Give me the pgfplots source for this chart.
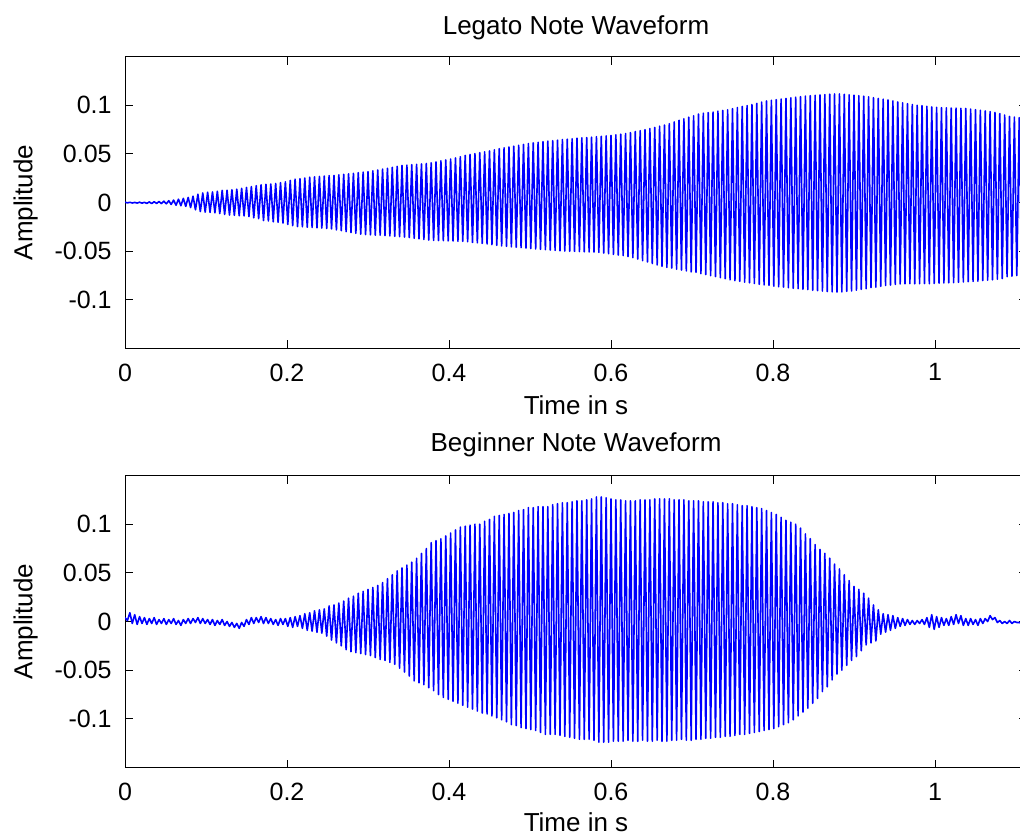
\documentclass[border=0pt]{standalone}
\usepackage{fontspec}
\setmainfont{Liberation Sans}
\usepackage{pgfplots}
\pgfplotsset{compat=1.18}
\newcommand{\lblfont}{\fontsize{13}{15.6}\selectfont}
\newcommand{\tckfont}{\fontsize{12.5}{15}\selectfont}
\pgfplotsset{
  wave/.style={
    width=451pt, scale only axis, anchor=north west,
    xmin=0, xmax=1.1136, ymin=-0.15, ymax=0.15,
    axis line style={black, line width=0.5pt},
    tick align=inside, major tick length=4pt,
    tick style={black, line width=0.5pt},
    xtick={0,0.2,0.4,0.6,0.8,1},
    xticklabels={0,0.2,0.4,0.6,0.8,1},
    ytick={-0.1,-0.05,0,0.05,0.1},
    yticklabels={-0.1,-0.05,0,0.05,0.1},
    xticklabel style={font=\tckfont, inner sep=0pt, anchor=north, yshift=-7.5pt},
    yticklabel style={font=\tckfont, inner sep=0pt, anchor=east, xshift=-6.5pt},
    every axis title/.style={at={(axis description cs:0.5,1)}, anchor=base, inner sep=0pt, font=\lblfont},
    every axis x label/.style={at={(axis description cs:0.5,0)}, anchor=base, inner sep=0pt, font=\lblfont},
    every axis y label/.style={at={(axis description cs:-0.1026,0.5)}, rotate=90, anchor=base, inner sep=0pt, font=\lblfont},
    xlabel={Time in s}, ylabel={Amplitude},
  },
  sig/.style={color={rgb,255:red,0;green,0;blue,255}, line width=0.8pt, line join=round, mark=none},
}
\begin{document}
\begin{tikzpicture}
\useasboundingbox (0,0) rectangle (510pt,-417pt);
\begin{axis}[wave, at={(62.5pt,-28.35pt)}, height=145.8pt,
  title={Legato Note Waveform}, title style={yshift=10.9pt}, xlabel style={yshift=-33pt}]
\addplot[sig] coordinates {
(0.000,0.0003)(0.003,-0.0004)(0.006,0.0002)(0.009,-0.0005)(0.012,0.0001)(0.015,-0.0006)(0.018,0.0003)(0.021,-0.0007)(0.024,0.0002)(0.027,-0.0009)
(0.030,0.0006)(0.033,-0.0011)(0.036,0.0008)(0.039,-0.0010)(0.042,0.0010)(0.045,-0.0012)(0.048,0.0013)(0.051,-0.0013)(0.054,0.0018)(0.057,-0.0020)
(0.060,0.0025)(0.063,-0.0028)(0.066,0.0034)(0.069,-0.0033)(0.072,0.0043)(0.075,-0.0040)(0.078,0.0052)(0.081,-0.0052)(0.084,0.0065)(0.087,-0.0075)
(0.090,0.0085)(0.093,-0.0093)(0.096,0.0098)(0.099,-0.0099)(0.102,0.0106)(0.105,-0.0102)(0.108,0.0109)(0.111,-0.0106)(0.114,0.0116)(0.117,-0.0114)
(0.120,0.0125)(0.123,-0.0123)(0.126,0.0126)(0.129,-0.0129)(0.132,0.0131)(0.135,-0.0132)(0.138,0.0137)(0.141,-0.0136)(0.144,0.0146)(0.147,-0.0138)
(0.150,0.0155)(0.153,-0.0145)(0.156,0.0164)(0.159,-0.0158)(0.162,0.0173)(0.165,-0.0166)(0.168,0.0182)(0.171,-0.0186)(0.174,0.0187)(0.177,-0.0190)
(0.180,0.0190)(0.183,-0.0198)(0.186,0.0196)(0.189,-0.0204)(0.192,0.0203)(0.195,-0.0212)(0.198,0.0212)(0.201,-0.0226)(0.204,0.0227)(0.207,-0.0238)
(0.210,0.0240)(0.213,-0.0248)(0.216,0.0244)(0.219,-0.0250)(0.222,0.0252)(0.225,-0.0254)(0.228,0.0260)(0.231,-0.0257)(0.234,0.0264)(0.237,-0.0261)
(0.240,0.0268)(0.243,-0.0263)(0.246,0.0272)(0.249,-0.0267)(0.252,0.0276)(0.255,-0.0272)(0.258,0.0279)(0.261,-0.0282)(0.264,0.0284)(0.267,-0.0290)
(0.270,0.0290)(0.273,-0.0300)(0.276,0.0295)(0.279,-0.0309)(0.282,0.0300)(0.285,-0.0317)(0.288,0.0306)(0.291,-0.0326)(0.294,0.0312)(0.297,-0.0330)
(0.300,0.0318)(0.303,-0.0333)(0.306,0.0326)(0.309,-0.0336)(0.312,0.0334)(0.315,-0.0337)(0.318,0.0344)(0.321,-0.0341)(0.324,0.0352)(0.327,-0.0344)
(0.330,0.0362)(0.333,-0.0348)(0.336,0.0372)(0.339,-0.0351)(0.342,0.0381)(0.345,-0.0355)(0.348,0.0384)(0.351,-0.0361)(0.354,0.0388)(0.357,-0.0368)
(0.360,0.0392)(0.363,-0.0374)(0.366,0.0397)(0.369,-0.0381)(0.372,0.0402)(0.375,-0.0386)(0.378,0.0408)(0.381,-0.0390)(0.384,0.0417)(0.387,-0.0391)
(0.390,0.0428)(0.393,-0.0393)(0.396,0.0438)(0.399,-0.0395)(0.402,0.0448)(0.405,-0.0396)(0.408,0.0459)(0.411,-0.0399)(0.414,0.0471)(0.417,-0.0400)
(0.420,0.0485)(0.423,-0.0404)(0.426,0.0494)(0.429,-0.0411)(0.432,0.0503)(0.435,-0.0415)(0.438,0.0512)(0.441,-0.0421)(0.444,0.0521)(0.447,-0.0427)
(0.450,0.0530)(0.453,-0.0434)(0.456,0.0542)(0.459,-0.0441)(0.462,0.0553)(0.465,-0.0446)(0.468,0.0562)(0.471,-0.0451)(0.474,0.0571)(0.477,-0.0456)
(0.480,0.0580)(0.483,-0.0460)(0.486,0.0589)(0.489,-0.0464)(0.492,0.0598)(0.495,-0.0469)(0.498,0.0607)(0.501,-0.0474)(0.504,0.0614)(0.507,-0.0478)
(0.510,0.0620)(0.513,-0.0482)(0.516,0.0626)(0.519,-0.0485)(0.522,0.0632)(0.525,-0.0489)(0.528,0.0636)(0.531,-0.0493)(0.534,0.0642)(0.537,-0.0498)
(0.540,0.0648)(0.543,-0.0500)(0.546,0.0652)(0.549,-0.0502)(0.552,0.0656)(0.555,-0.0503)(0.558,0.0661)(0.561,-0.0505)(0.564,0.0665)(0.567,-0.0507)
(0.570,0.0668)(0.573,-0.0509)(0.576,0.0672)(0.579,-0.0510)(0.582,0.0677)(0.585,-0.0513)(0.588,0.0681)(0.591,-0.0521)(0.594,0.0685)(0.597,-0.0527)
(0.600,0.0690)(0.603,-0.0534)(0.606,0.0696)(0.609,-0.0541)(0.612,0.0703)(0.615,-0.0546)(0.618,0.0710)(0.621,-0.0557)(0.624,0.0719)(0.627,-0.0567)
(0.630,0.0730)(0.633,-0.0582)(0.636,0.0739)(0.639,-0.0598)(0.642,0.0749)(0.645,-0.0612)(0.648,0.0761)(0.651,-0.0628)(0.654,0.0773)(0.657,-0.0643)
(0.660,0.0785)(0.663,-0.0656)(0.666,0.0797)(0.669,-0.0668)(0.672,0.0811)(0.675,-0.0675)(0.678,0.0829)(0.681,-0.0687)(0.684,0.0846)(0.687,-0.0695)
(0.690,0.0862)(0.693,-0.0704)(0.696,0.0878)(0.699,-0.0714)(0.702,0.0893)(0.705,-0.0719)(0.708,0.0910)(0.711,-0.0732)(0.714,0.0919)(0.717,-0.0742)
(0.720,0.0925)(0.723,-0.0752)(0.726,0.0930)(0.729,-0.0763)(0.732,0.0940)(0.735,-0.0773)(0.738,0.0948)(0.741,-0.0784)(0.744,0.0954)(0.747,-0.0795)
(0.750,0.0965)(0.753,-0.0804)(0.756,0.0977)(0.759,-0.0811)(0.762,0.0988)(0.765,-0.0819)(0.768,0.0997)(0.771,-0.0826)(0.774,0.1008)(0.777,-0.0834)
(0.780,0.1020)(0.783,-0.0841)(0.786,0.1033)(0.789,-0.0848)(0.792,0.1044)(0.795,-0.0852)(0.798,0.1052)(0.801,-0.0861)(0.804,0.1059)(0.807,-0.0867)
(0.810,0.1065)(0.813,-0.0871)(0.816,0.1071)(0.819,-0.0877)(0.822,0.1077)(0.825,-0.0883)(0.828,0.1083)(0.831,-0.0886)(0.834,0.1089)(0.837,-0.0892)
(0.840,0.1095)(0.843,-0.0896)(0.846,0.1099)(0.849,-0.0904)(0.852,0.1103)(0.855,-0.0907)(0.858,0.1106)(0.861,-0.0911)(0.864,0.1110)(0.867,-0.0916)
(0.870,0.1115)(0.873,-0.0919)(0.876,0.1117)(0.879,-0.0922)(0.882,0.1117)(0.885,-0.0920)(0.888,0.1113)(0.891,-0.0913)(0.894,0.1109)(0.897,-0.0910)
(0.900,0.1105)(0.903,-0.0902)(0.906,0.1099)(0.909,-0.0894)(0.912,0.1093)(0.915,-0.0887)(0.918,0.1087)(0.921,-0.0876)(0.924,0.1079)(0.927,-0.0872)
(0.930,0.1070)(0.933,-0.0862)(0.936,0.1063)(0.939,-0.0854)(0.942,0.1055)(0.945,-0.0850)(0.948,0.1045)(0.951,-0.0843)(0.954,0.1035)(0.957,-0.0838)
(0.960,0.1025)(0.963,-0.0836)(0.966,0.1016)(0.969,-0.0835)(0.972,0.1008)(0.975,-0.0837)(0.978,0.1000)(0.981,-0.0836)(0.984,0.0996)(0.987,-0.0834)
(0.990,0.0990)(0.993,-0.0836)(0.996,0.0984)(0.999,-0.0833)(1.002,0.0979)(1.005,-0.0830)(1.008,0.0976)(1.011,-0.0828)(1.014,0.0974)(1.017,-0.0826)
(1.020,0.0972)(1.023,-0.0825)(1.026,0.0971)(1.029,-0.0821)(1.032,0.0969)(1.035,-0.0818)(1.038,0.0967)(1.041,-0.0815)(1.044,0.0961)(1.047,-0.0812)
(1.050,0.0955)(1.053,-0.0809)(1.056,0.0949)(1.059,-0.0803)(1.062,0.0942)(1.065,-0.0800)(1.068,0.0935)(1.071,-0.0796)(1.074,0.0927)(1.077,-0.0790)
(1.080,0.0915)(1.083,-0.0783)(1.086,0.0900)(1.089,-0.0764)(1.092,0.0886)(1.095,-0.0758)(1.098,0.0878)(1.101,-0.0752)(1.104,0.0873)(1.107,-0.0751)
(1.110,0.0870)(1.113,-0.0750)(1.116,0.0868)
};
\end{axis}
\begin{axis}[wave, at={(62.5pt,-237.75pt)}, height=146pt,
  title={Beginner Note Waveform}, title style={yshift=12pt}, xlabel style={yshift=-32pt}]
\addplot[sig] coordinates {
(0.000,0.004)(0.003,0.001)(0.006,0.009)(0.009,-0.002)(0.012,0.007)(0.015,-0.003)(0.018,0.005)(0.021,-0.002)(0.024,0.004)(0.027,-0.003)
(0.030,0.003)(0.033,-0.002)(0.036,0.004)(0.039,-0.003)(0.042,0.002)(0.045,-0.002)(0.048,0.003)(0.051,-0.003)(0.054,0.002)(0.057,-0.002)
(0.060,0.003)(0.063,-0.003)(0.066,0.001)(0.069,-0.004)(0.072,0.002)(0.075,-0.002)(0.078,0.003)(0.081,-0.002)(0.084,0.003)(0.087,-0.001)
(0.090,0.004)(0.093,-0.002)(0.096,0.003)(0.099,-0.002)(0.102,0.002)(0.105,-0.003)(0.108,0.002)(0.111,-0.004)(0.114,0.001)(0.117,-0.003)
(0.120,0.002)(0.123,-0.004)(0.126,0.000)(0.129,-0.005)(0.132,-0.001)(0.135,-0.006)(0.138,-0.002)(0.141,-0.007)(0.144,-0.001)(0.147,-0.005)
(0.150,0.002)(0.153,-0.003)(0.156,0.004)(0.159,-0.002)(0.162,0.004)(0.165,-0.001)(0.168,0.005)(0.171,-0.002)(0.174,0.004)(0.177,-0.002)
(0.180,0.003)(0.183,-0.003)(0.186,0.002)(0.189,-0.004)(0.192,0.003)(0.195,-0.003)(0.198,0.003)(0.201,-0.005)(0.204,0.004)(0.207,-0.006)
(0.210,0.005)(0.213,-0.005)(0.216,0.006)(0.219,-0.007)(0.222,0.008)(0.225,-0.009)(0.228,0.009)(0.231,-0.010)(0.234,0.011)(0.237,-0.011)
(0.240,0.012)(0.243,-0.012)(0.246,0.013)(0.249,-0.015)(0.252,0.016)(0.255,-0.019)(0.258,0.017)(0.261,-0.022)(0.264,0.019)(0.267,-0.025)
(0.270,0.021)(0.273,-0.029)(0.276,0.024)(0.279,-0.031)(0.282,0.026)(0.285,-0.032)(0.288,0.029)(0.291,-0.033)(0.294,0.031)(0.297,-0.034)
(0.300,0.033)(0.303,-0.035)(0.306,0.035)(0.309,-0.037)(0.312,0.037)(0.315,-0.039)(0.318,0.040)(0.321,-0.040)(0.324,0.044)(0.327,-0.042)
(0.330,0.048)(0.333,-0.044)(0.336,0.052)(0.339,-0.048)(0.342,0.055)(0.345,-0.052)(0.348,0.058)(0.351,-0.056)(0.354,0.061)(0.357,-0.061)
(0.360,0.065)(0.363,-0.063)(0.366,0.070)(0.369,-0.065)(0.372,0.075)(0.375,-0.068)(0.378,0.081)(0.381,-0.071)(0.384,0.083)(0.387,-0.075)
(0.390,0.085)(0.393,-0.078)(0.396,0.088)(0.399,-0.080)(0.402,0.091)(0.405,-0.082)(0.408,0.094)(0.411,-0.084)(0.414,0.097)(0.417,-0.086)
(0.420,0.098)(0.423,-0.088)(0.426,0.099)(0.429,-0.090)(0.432,0.100)(0.435,-0.092)(0.438,0.100)(0.441,-0.094)(0.444,0.103)(0.447,-0.095)
(0.450,0.105)(0.453,-0.097)(0.456,0.108)(0.459,-0.099)(0.462,0.109)(0.465,-0.101)(0.468,0.110)(0.471,-0.103)(0.474,0.111)(0.477,-0.106)
(0.480,0.112)(0.483,-0.107)(0.486,0.114)(0.489,-0.109)(0.492,0.115)(0.495,-0.110)(0.498,0.117)(0.501,-0.111)(0.504,0.117)(0.507,-0.112)
(0.510,0.118)(0.513,-0.114)(0.516,0.118)(0.519,-0.116)(0.522,0.118)(0.525,-0.116)(0.528,0.120)(0.531,-0.116)(0.534,0.121)(0.537,-0.117)
(0.540,0.122)(0.543,-0.118)(0.546,0.122)(0.549,-0.119)(0.552,0.123)(0.555,-0.120)(0.558,0.124)(0.561,-0.121)(0.564,0.124)(0.567,-0.121)
(0.570,0.125)(0.573,-0.121)(0.576,0.126)(0.579,-0.122)(0.582,0.128)(0.585,-0.124)(0.588,0.128)(0.591,-0.124)(0.594,0.127)(0.597,-0.124)
(0.600,0.126)(0.603,-0.123)(0.606,0.125)(0.609,-0.123)(0.612,0.125)(0.615,-0.123)(0.618,0.124)(0.621,-0.122)(0.624,0.124)(0.627,-0.123)
(0.630,0.124)(0.633,-0.123)(0.636,0.125)(0.639,-0.122)(0.642,0.125)(0.645,-0.123)(0.648,0.125)(0.651,-0.123)(0.654,0.126)(0.657,-0.122)
(0.660,0.126)(0.663,-0.123)(0.666,0.126)(0.669,-0.123)(0.672,0.126)(0.675,-0.122)(0.678,0.125)(0.681,-0.122)(0.684,0.125)(0.687,-0.121)
(0.690,0.125)(0.693,-0.122)(0.696,0.124)(0.699,-0.122)(0.702,0.124)(0.705,-0.121)(0.708,0.124)(0.711,-0.121)(0.714,0.123)(0.717,-0.120)
(0.720,0.123)(0.723,-0.120)(0.726,0.123)(0.729,-0.119)(0.732,0.122)(0.735,-0.119)(0.738,0.122)(0.741,-0.118)(0.744,0.121)(0.747,-0.118)
(0.750,0.121)(0.753,-0.117)(0.756,0.120)(0.759,-0.116)(0.762,0.119)(0.765,-0.116)(0.768,0.119)(0.771,-0.115)(0.774,0.118)(0.777,-0.114)
(0.780,0.117)(0.783,-0.113)(0.786,0.116)(0.789,-0.112)(0.792,0.114)(0.795,-0.111)(0.798,0.112)(0.801,-0.110)(0.804,0.110)(0.807,-0.108)
(0.810,0.107)(0.813,-0.106)(0.816,0.104)(0.819,-0.104)(0.822,0.102)(0.825,-0.101)(0.828,0.100)(0.831,-0.097)(0.834,0.096)(0.837,-0.093)
(0.840,0.090)(0.843,-0.089)(0.846,0.085)(0.849,-0.084)(0.852,0.079)(0.855,-0.079)(0.858,0.074)(0.861,-0.072)(0.864,0.070)(0.867,-0.067)
(0.870,0.065)(0.873,-0.060)(0.876,0.059)(0.879,-0.054)(0.882,0.054)(0.885,-0.050)(0.888,0.048)(0.891,-0.045)(0.894,0.042)(0.897,-0.040)
(0.900,0.036)(0.903,-0.036)(0.906,0.033)(0.909,-0.030)(0.912,0.029)(0.915,-0.024)(0.918,0.024)(0.921,-0.022)(0.924,0.017)(0.927,-0.020)
(0.930,0.012)(0.933,-0.013)(0.936,0.008)(0.939,-0.011)(0.942,0.007)(0.945,-0.009)(0.948,0.006)(0.951,-0.007)(0.954,0.004)(0.957,-0.005)
(0.960,0.003)(0.963,-0.004)(0.966,0.002)(0.969,-0.003)(0.972,0.001)(0.975,-0.003)(0.978,0.001)(0.981,-0.002)(0.984,0.002)(0.987,-0.003)
(0.990,0.004)(0.993,-0.006)(0.996,0.007)(0.999,-0.008)(1.002,0.005)(1.005,-0.006)(1.008,0.004)(1.011,-0.004)(1.014,0.003)(1.017,-0.004)
(1.020,0.005)(1.023,-0.003)(1.026,0.007)(1.029,-0.002)(1.032,0.006)(1.035,-0.004)(1.038,0.003)(1.041,-0.004)(1.044,0.003)(1.047,-0.003)
(1.050,0.002)(1.053,-0.004)(1.056,0.003)(1.059,-0.002)(1.062,0.003)(1.065,0.000)(1.068,0.006)(1.071,0.002)(1.074,0.004)(1.077,-0.001)
(1.080,0.001)(1.083,-0.002)(1.086,0.000)(1.089,-0.002)(1.092,0.001)(1.095,-0.002)(1.098,0.000)(1.101,-0.001)(1.104,-0.001)(1.107,-0.002)
(1.110,0.000)(1.113,-0.001)(1.116,-0.001)
};
\end{axis}
\end{tikzpicture}
\end{document}
